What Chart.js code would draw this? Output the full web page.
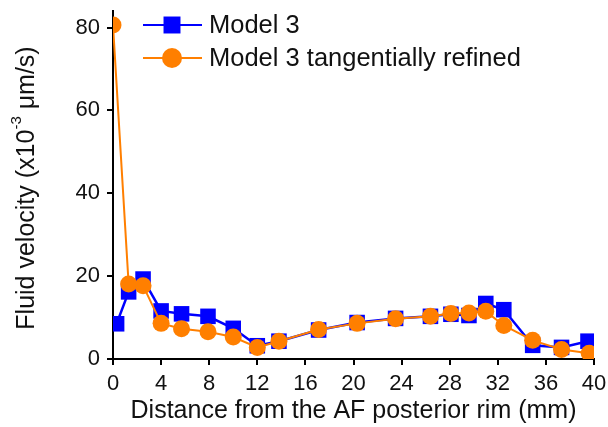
<!DOCTYPE html>
<html>
<head>
<meta charset="utf-8">
<script src="https://cdn.jsdelivr.net/npm/chart.js@4.4.1/dist/chart.umd.min.js"></script>
<style>
    html, body { margin: 0; padding: 0; background: #fff; }
    #wrap { width: 608px; height: 427px; position: relative; }
</style>
</head>
<body>
<div id="wrap"><canvas id="fv_chart"></canvas></div>
<script>
    // values
    const model3_x = [0.3, 1.3, 2.5, 4.0, 5.7, 7.9, 10.0, 12.0, 13.8, 17.1, 20.3, 23.5, 26.4, 28.1, 29.6, 31.0, 32.5, 34.9, 37.3, 39.5];
    const model3_y = [8.5, 16.2, 19.3, 11.6, 10.9, 10.3, 7.4, 3.2, 4.3, 7.0, 8.8, 9.8, 10.3, 10.8, 10.5, 13.4, 11.9, 3.3, 2.8, 4.3];
    const refined_x = [0, 1.3, 2.5, 4.0, 5.7, 7.9, 10.0, 12.0, 13.8, 17.1, 20.3, 23.5, 26.4, 28.1, 29.6, 31.0, 32.5, 34.9, 37.3, 39.6];
    const refined_y = [80.6, 18.1, 17.7, 8.6, 7.3, 6.6, 5.3, 2.8, 4.3, 7.1, 8.6, 9.7, 10.3, 11.0, 11.1, 11.5, 8.1, 4.5, 2.3, 1.4];
    const y_ticks = [0, 20, 40, 60, 80];
    const series_labels = ['Model 3', 'Model 3 tangentially refined'];
    const x_title = 'Distance from the AF posterior rim (mm)';
    const y_title_parts = ['Fluid velocity (x10', '-3', ' \u03bcm/s)'];

    const font_family = '"Liberation Sans", Arial, sans-serif';

    function toXY(xs, ys) {
        return xs.map((x, i) => ({ x: x, y: ys[i] }));
    }

    // legend drawn inside the plot, top left
    const insideLegend = {
        id: 'insideLegend',
        afterDraw(chart) {
            const ctx = chart.ctx;
            const rows = [
                { ds: chart.data.datasets[0], y: 25, r: 12 },
                { ds: chart.data.datasets[1], y: 58, r: 10 },
            ];
            ctx.save();
            rows.forEach(row => {
                ctx.strokeStyle = row.ds.borderColor;
                ctx.lineWidth = 2;
                ctx.beginPath();
                ctx.moveTo(143, row.y);
                ctx.lineTo(202, row.y);
                ctx.stroke();
                ctx.fillStyle = row.ds.pointBackgroundColor;
                ctx.strokeStyle = row.ds.pointBorderColor;
                Chart.helpers.drawPoint(ctx, { pointStyle: row.ds.pointStyle, radius: row.r, rotation: 0, borderWidth: 0 }, 172, row.y);
                ctx.fillStyle = '#111';
                ctx.font = `25.5px ${font_family}`;
                ctx.textBaseline = 'middle';
                ctx.textAlign = 'left';
                ctx.fillText(row.ds.label, 209, row.y + 1);
            });
            ctx.restore();
        }
    };

    // y title with superscript
    const yTitle = {
        id: 'yTitle',
        afterDraw(chart) {
            const ctx = chart.ctx;
            ctx.save();
            ctx.translate(27, 188);
            ctx.rotate(-Math.PI / 2);
            ctx.fillStyle = '#111';
            ctx.textBaseline = 'middle';
            ctx.textAlign = 'left';
            const big = `25px ${font_family}`;
            const small = `15px ${font_family}`;
            ctx.font = big;
            const w0 = ctx.measureText(y_title_parts[0]).width;
            const w2 = ctx.measureText(y_title_parts[2]).width;
            ctx.font = small;
            const w1 = ctx.measureText(y_title_parts[1]).width;
            let x = -(w0 + w1 + w2) / 2;
            ctx.font = big;
            ctx.fillText(y_title_parts[0], x, 0);
            x += w0;
            ctx.font = small;
            ctx.fillText(y_title_parts[1], x, -10);
            x += w1;
            ctx.font = big;
            ctx.fillText(y_title_parts[2], x, 0);
            ctx.restore();
        }
    };

    let chartCanvas = document.getElementById('fv_chart').getContext('2d');
    let chartObject = new Chart(chartCanvas, {
        type: 'line',
        data: {
            datasets: [{
                label: series_labels[0],
                data: toXY(model3_x, model3_y),
                order: 2,
                borderColor: '#0000ff',
                borderWidth: 2.5,
                pointStyle: 'rect',
                pointRadius: 11,
                pointBackgroundColor: '#0000ff',
                pointBorderColor: '#0000ff',
                pointBorderWidth: 0,
                clip: 0,
            }, {
                label: series_labels[1],
                data: toXY(refined_x, refined_y),
                order: 1,
                borderColor: '#ff7f00',
                borderWidth: 2,
                pointStyle: 'circle',
                pointRadius: 8.5,
                pointBackgroundColor: '#ff7f00',
                pointBorderColor: '#ff7f00',
                pointBorderWidth: 0,
                clip: 0,
            }],
        },
        options: {
            responsive: true,
            maintainAspectRatio: false,
            animation: false,
            layout: { padding: { top: 0, right: 14, bottom: 0, left: 0 } },
            plugins: {
                legend: { display: false },
                tooltip: { enabled: false },
            },
            scales: {
                x: {
                    type: 'linear',
                    min: 0,
                    max: 40,
                    afterFit: function(scale) {
                        scale.height = 68;
                        scale.paddingLeft = 0;
                        scale.paddingRight = 0;
                    },
                    border: { display: true, color: '#000', width: 2 },
                    grid: { drawOnChartArea: false, drawTicks: true, tickLength: 6, color: '#000', lineWidth: 2 },
                    ticks: {
                        stepSize: 4,
                        padding: 6,
                        color: '#111',
                        maxRotation: 0,
                        font: { family: font_family, size: 22 },
                    },
                    title: {
                        display: true,
                        text: x_title,
                        color: '#111',
                        padding: { top: 0, bottom: 1 },
                        font: { family: font_family, size: 25 },
                    },
                },
                y: {
                    min: 0,
                    max: 84,
                    afterFit: function(scale) {
                        scale.width = 113;
                        scale.paddingTop = 0;
                        scale.paddingBottom = 0;
                    },
                    afterBuildTicks: function(scale) {
                        scale.ticks = y_ticks.map(v => ({ value: v }));
                    },
                    border: { display: true, color: '#000', width: 2 },
                    grid: { drawOnChartArea: false, drawTicks: true, tickLength: 6, color: '#000', lineWidth: 2 },
                    ticks: {
                        padding: 7,
                        color: '#111',
                        font: { family: font_family, size: 22 },
                    },
                },
            },
        },
        plugins: [insideLegend, yTitle],
    });
</script>
</body>
</html>
